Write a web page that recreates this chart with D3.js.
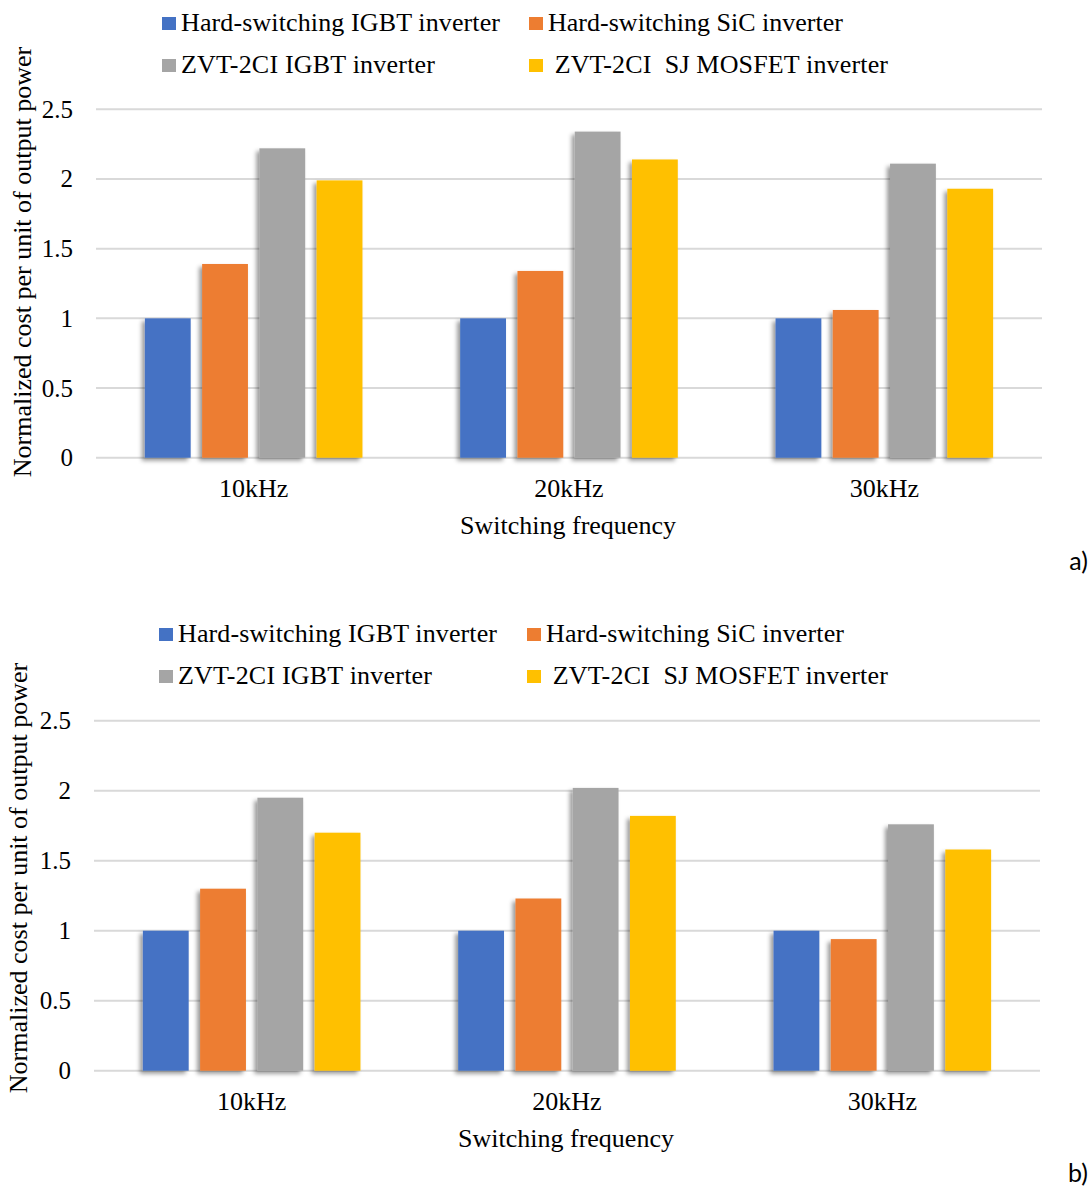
<!DOCTYPE html>
<html>
<head>
<meta charset="utf-8">
<script src="https://cdn.jsdelivr.net/npm/d3@7"></script>
<style>
  html, body { margin: 0; padding: 0; background: #fff; }
  svg text { font-family: "Liberation Serif", "Times New Roman", serif; fill: #000; white-space: pre; }
  svg text.tag { font-family: Lato, "Liberation Sans", sans-serif; }
</style>
</head>
<body>
<svg id="chart" width="1092" height="1187"></svg>
<script>
// Switching frequencies on the category axis
const categories = ["10kHz", "20kHz", "30kHz"];

// Inverter types, legend order
const seriesNames = [
  "Hard-switching IGBT inverter",
  "Hard-switching SiC inverter",
  "ZVT-2CI IGBT inverter",
  " ZVT-2CI  SJ MOSFET inverter"
];
const seriesColors = ["#4472C4", "#ED7D31", "#A5A5A5", "#FFC000"];

// Panel a) normalized cost per unit of output power
const hsIgbtA  = [1.00, 1.00, 1.00];
const hsSicA   = [1.39, 1.34, 1.06];
const zvtIgbtA = [2.22, 2.34, 2.11];
const zvtSjA   = [1.99, 2.14, 1.93];

// Panel b) normalized cost per unit of output power
const hsIgbtB  = [1.00, 1.00, 1.00];
const hsSicB   = [1.30, 1.23, 0.94];
const zvtIgbtB = [1.95, 2.02, 1.76];
const zvtSjB   = [1.70, 1.82, 1.58];

const yTicks = [0, 0.5, 1, 1.5, 2, 2.5];
const yTickLabels = ["0", "0.5", "1", "1.5", "2", "2.5"];

const yTitle = "Normalized cost per unit of output power";
const xTitle = "Switching frequency";

const serif = '"Liberation Serif", "Times New Roman", serif';
const svg = d3.select("#chart");

// Soft shadow cast down-left by every bar
const defs = svg.append("defs");
const f = defs.append("filter").attr("id", "barShadow")
  .attr("x", "-30%").attr("y", "-10%").attr("width", "160%").attr("height", "130%");
f.append("feDropShadow").attr("dx", -3).attr("dy", 3)
  .attr("stdDeviation", 2).attr("flood-color", "#000").attr("flood-opacity", 0.4);

function drawPanel(cfg) {
  const g = svg.append("g");
  const series = cfg.series;

  const x = d3.scaleBand().domain(categories).range([cfg.left, cfg.right]);
  const bw = x.bandwidth();
  const x1 = d3.scaleBand().domain(d3.range(series.length))
    .range([0.155 * bw, 0.845 * bw]).paddingInner(0.2);
  const y = d3.scaleLinear().domain([0, 2.5]).range([cfg.bottom, cfg.top]);

  // horizontal gridlines
  g.append("g").selectAll("line").data(yTicks).join("line")
    .attr("x1", cfg.left).attr("x2", cfg.right)
    .attr("y1", d => y(d)).attr("y2", d => y(d))
    .attr("stroke", "#D9D9D9").attr("stroke-width", 2);

  // y tick labels
  const yAxis = d3.axisLeft(y).tickValues(yTicks)
    .tickFormat((d, i) => yTickLabels[i]).tickSize(0).tickPadding(0);
  const ya = g.append("g").attr("transform", `translate(${cfg.tickX},0)`).call(yAxis)
    .attr("font-family", serif).attr("font-size", 25);
  ya.select(".domain").remove();
  ya.selectAll("text").attr("font-size", 25).attr("font-family", serif).attr("fill", "#000");

  // bars
  const groups = g.append("g").selectAll("g").data(categories).join("g")
    .attr("transform", d => `translate(${x(d)},0)`);
  groups.selectAll("rect")
    .data((c, ci) => series.map((s, si) => ({ si, v: s[ci] })))
    .join("rect")
    .attr("x", d => x1(d.si))
    .attr("width", x1.bandwidth())
    .attr("y", d => y(d.v))
    .attr("height", d => y(0) - y(d.v))
    .attr("fill", d => seriesColors[d.si])
    .attr("filter", "url(#barShadow)");

  // category labels
  const xAxis = d3.axisBottom(x).tickSize(0).tickPadding(0);
  const xa = g.append("g").attr("transform", `translate(0,${cfg.bottom + 39})`).call(xAxis)
    .attr("font-family", serif).attr("font-size", 26);
  xa.select(".domain").remove();
  xa.selectAll("text").attr("font-size", 26).attr("font-family", serif)
    .attr("fill", "#000").attr("dy", 0);

  // axis titles
  g.append("text").attr("x", (cfg.left + cfg.right) / 2 - 1).attr("y", cfg.bottom + 76)
    .attr("text-anchor", "middle").attr("font-size", 26).text(xTitle);
  g.append("text")
    .attr("transform", `translate(${cfg.titleX},${cfg.titleY}) rotate(-90)`)
    .attr("text-anchor", "middle").attr("font-size", 26).text(yTitle);

  // legend: two rows, two columns
  const legend = g.append("g");
  seriesNames.forEach((name, i) => {
    const col = i % 2, row = Math.floor(i / 2);
    const lx = cfg.legendX[col];
    const ly = cfg.legendY + row * 42;
    legend.append("rect").attr("x", lx).attr("y", ly - 14)
      .attr("width", 14).attr("height", 13).attr("fill", seriesColors[i]);
    legend.append("text").attr("x", lx + 19).attr("y", ly)
      .attr("font-size", 26).attr("textLength", cfg.legendLen[i])
      .attr("lengthAdjust", "spacing").text(name);
  });

  // panel tag
  g.append("text").attr("class", "tag").attr("x", 1088).attr("y", cfg.tagY)
    .attr("text-anchor", "end").attr("font-size", 25).text(cfg.tag);
}

drawPanel({
  series: [hsIgbtA, hsSicA, zvtIgbtA, zvtSjA],
  left: 96, right: 1042, top: 109.3, bottom: 457.7,
  tickX: 73, titleX: 31, titleY: 262,
  legendX: [162, 529], legendY: 31, legendLen: [319, 295, 254, 340],
  tag: "a)", tagY: 570
});

drawPanel({
  series: [hsIgbtB, hsSicB, zvtIgbtB, zvtSjB],
  left: 94, right: 1040, top: 720.7, bottom: 1070.7,
  tickX: 71, titleX: 27, titleY: 878,
  legendX: [159, 527], legendY: 642, legendLen: [319, 298, 254, 342],
  tag: "b)", tagY: 1182
});
</script>
</body>
</html>
